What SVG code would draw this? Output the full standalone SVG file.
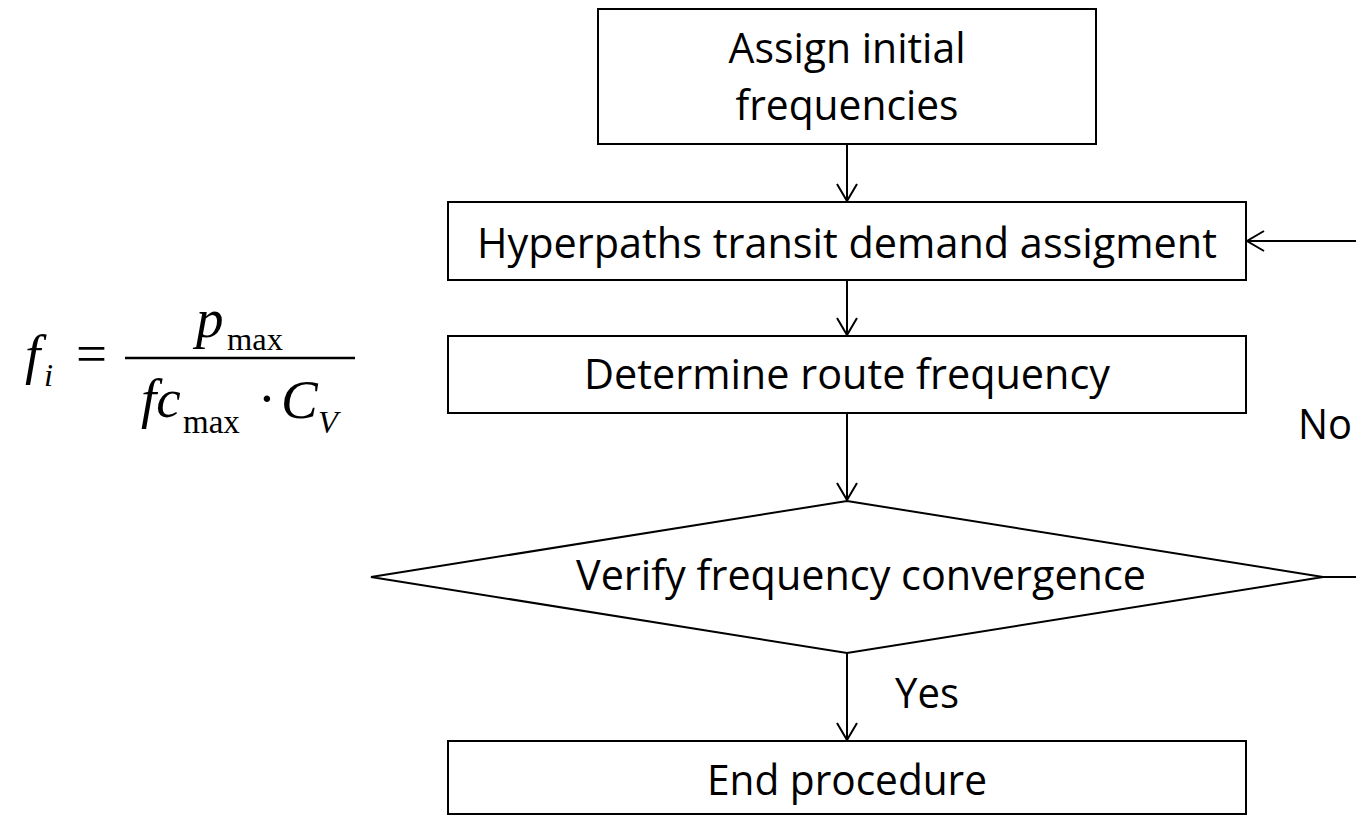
<svg xmlns="http://www.w3.org/2000/svg" width="1356" height="816" viewBox="0 0 1356 816">
<defs>
<style>
.box{fill:#fff;stroke:#000;stroke-width:2}
.lbl{font-family:"Open Sans","Liberation Sans",sans-serif;font-size:42px;fill:#000}
.c{stroke:#000;stroke-width:2;fill:none}
.m{font-family:"Liberation Serif","Times New Roman",serif;fill:#000}
.mi{font-style:italic}
</style>
<marker id="ah" viewBox="0 0 20 22" refX="18" refY="11" markerWidth="20" markerHeight="22" markerUnits="userSpaceOnUse" orient="auto">
<path d="M1,1 L18,11 L1,21" fill="none" stroke="#000" stroke-width="2"/>
</marker>
</defs>
<rect width="1356" height="816" fill="#fff"/>
<g id="connectors">
<line class="c" x1="847" y1="144" x2="847" y2="201" marker-end="url(#ah)"/>
<line class="c" x1="847" y1="280" x2="847" y2="335" marker-end="url(#ah)"/>
<line class="c" x1="847" y1="413" x2="847" y2="500" marker-end="url(#ah)"/>
<line class="c" x1="847" y1="653" x2="847" y2="740" marker-end="url(#ah)"/>
<line class="c" x1="1323" y1="577" x2="1356" y2="577"/>
<line class="c" x1="1356" y1="241" x2="1247" y2="241" marker-end="url(#ah)"/>
<text class="lbl" x="895" y="708" textLength="64" lengthAdjust="spacingAndGlyphs">Yes</text>
<text class="lbl" x="1298" y="439" textLength="54" lengthAdjust="spacingAndGlyphs">No</text>
</g>
<g id="n1">
<rect class="box" x="598" y="9" width="498" height="135"/>
<text class="lbl" x="847" y="63" text-anchor="middle" textLength="237" lengthAdjust="spacingAndGlyphs">Assign initial</text>
<text class="lbl" x="847" y="120" text-anchor="middle" textLength="223" lengthAdjust="spacingAndGlyphs">frequencies</text>
</g>
<g id="n2">
<rect class="box" x="448" y="202" width="798" height="78"/>
<text class="lbl" x="477" y="258" textLength="740" lengthAdjust="spacingAndGlyphs">Hyperpaths transit demand assigment</text>
</g>
<g id="n3">
<rect class="box" x="448" y="336" width="798" height="77"/>
<text class="lbl" x="847" y="389" text-anchor="middle" textLength="526" lengthAdjust="spacingAndGlyphs">Determine route frequency</text>
</g>
<g id="n4">
<polygon class="box" points="847,501 1323,577 847,653 371,577"/>
<text class="lbl" x="576" y="590" textLength="570" lengthAdjust="spacingAndGlyphs">Verify frequency convergence</text>
</g>
<g id="n5">
<rect class="box" x="448" y="741" width="798" height="73"/>
<text class="lbl" x="847" y="795" text-anchor="middle" textLength="280" lengthAdjust="spacingAndGlyphs">End procedure</text>
</g>
<g id="formula">
<text class="m mi" x="25" y="373" font-size="55">f</text>
<text class="m mi" x="44" y="386" font-size="32.5">i</text>
<text class="m" x="76" y="372" font-size="55">=</text>
<line x1="125" y1="358" x2="355" y2="358" stroke="#000" stroke-width="2.5"/>
<text class="m mi" x="196" y="337" font-size="55">p</text>
<text class="m" x="227" y="350" font-size="32.5">max</text>
<text class="m mi" x="141" y="417" font-size="55">fc</text>
<text class="m" x="183" y="433" font-size="33">max</text>
<text class="m" x="267" y="417" font-size="55" text-anchor="middle">·</text>
<text class="m mi" x="281" y="418" font-size="55">C</text>
<text class="m mi" x="318" y="433" font-size="32.5">V</text>
</g>
</svg>
